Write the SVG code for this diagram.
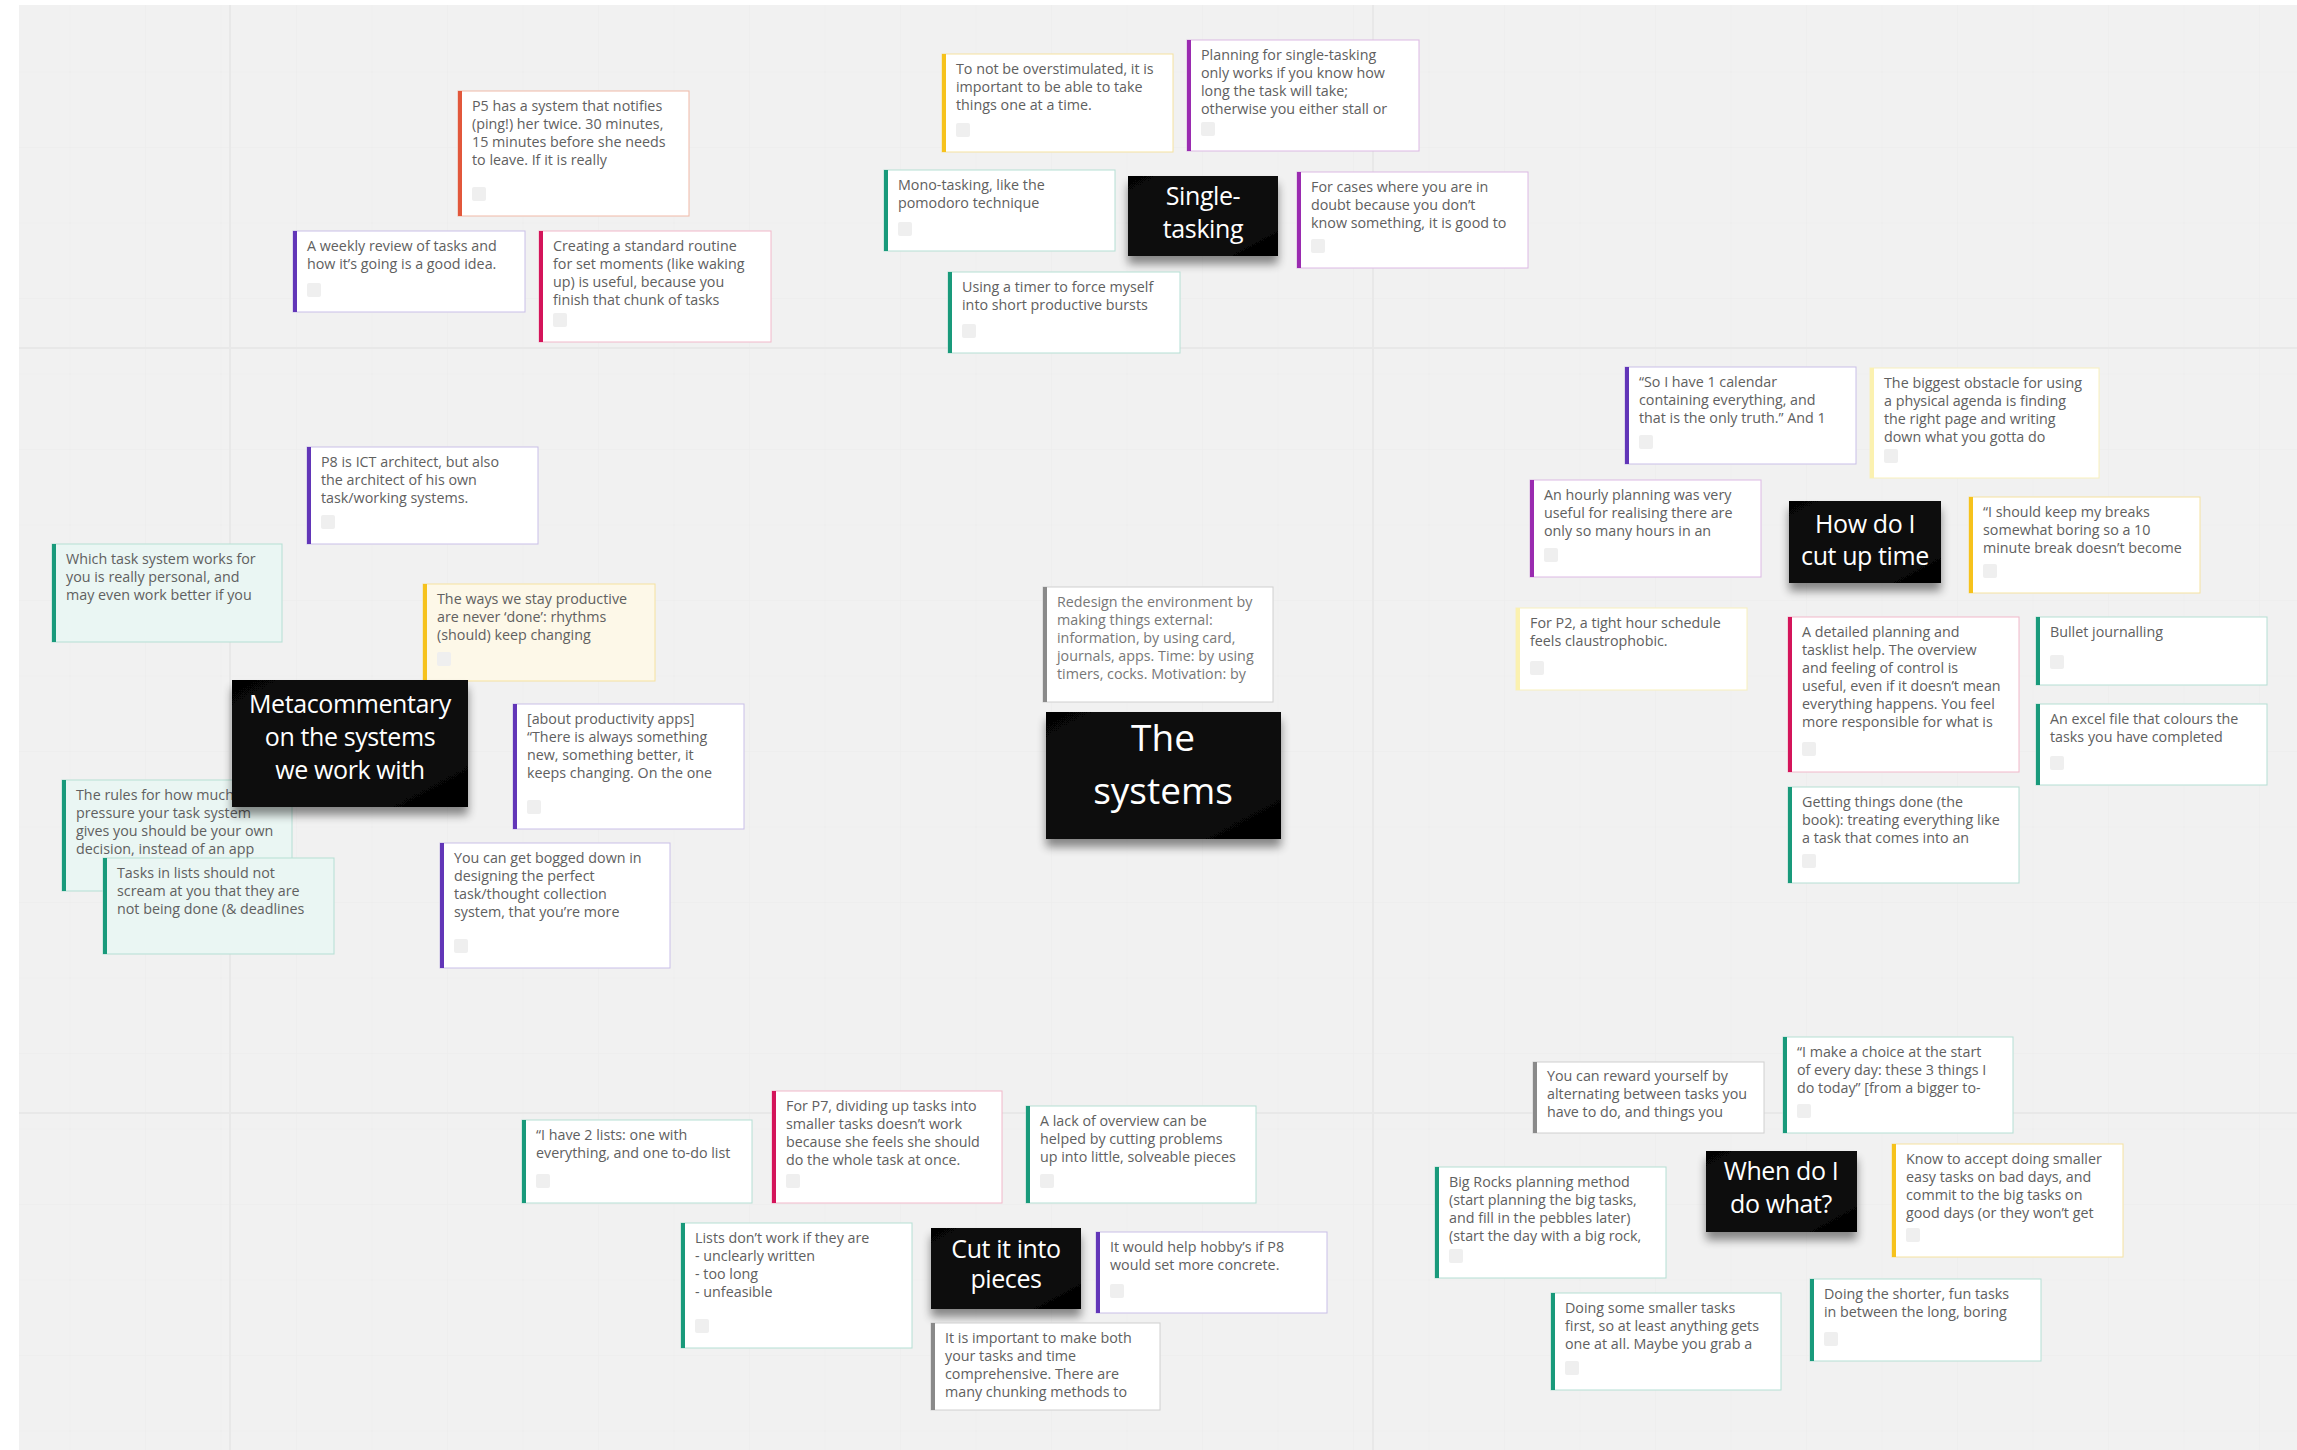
<svg xmlns="http://www.w3.org/2000/svg" width="2297" height="1450" viewBox="0 0 2297 1450">
<defs>
<pattern id="minor" x="-5" y="-3" width="75.5" height="75.5" patternUnits="userSpaceOnUse">
<path d="M75.5 0V75.5M0 75.5H75.5" fill="none" stroke="#ececec" stroke-width="1"/>
</pattern>
<filter id="shadow" x="-20%" y="-20%" width="140%" height="160%">
<feGaussianBlur in="SourceAlpha" stdDeviation="5"/>
<feOffset dx="0" dy="8" result="b"/>
<feComponentTransfer><feFuncA type="linear" slope="0.45"/></feComponentTransfer>
<feMerge><feMergeNode/><feMergeNode in="SourceGraphic"/></feMerge>
</filter>
<linearGradient id="blk" x1="0" y1="0" x2="1" y2="1">
<stop offset="0" stop-color="#050505"/>
<stop offset="0.6" stop-color="#111"/>
<stop offset="1" stop-color="#000"/>
</linearGradient>
</defs>
<style>
.bg{fill:#fff;stroke-width:1}
.t{font-family:"Open Sans","Noto Sans","Liberation Sans",sans-serif;font-size:14.3px;fill:#606060}
.cb{fill:#efefef}
.hd rect{fill:url(#blk);filter:url(#shadow)}
.hd text{font-family:"Open Sans","Noto Sans","Liberation Sans",sans-serif;font-size:25px;fill:#fff;text-anchor:middle;letter-spacing:-0.4px}
.orange .bg{stroke:#f0b9a7}.orange .bar{fill:#e2573b}
.indigo .bg{stroke:#c9bfe8}.indigo .bar{fill:#6236b8}
.magenta .bg{stroke:#dcb9e4}.magenta .bar{fill:#9a2bb0}
.crimson .bg{stroke:#f1b8ca}.crimson .bar{fill:#d4145a}
.teal .bg{stroke:#b5dfd4}.teal .bar{fill:#199a7b}
.yellow .bg{stroke:#f5e2a0}.yellow .bar{fill:#f6c21c}
.pale .bg{stroke:#f8f0bd}.pale .bar{fill:#fbf1b0}
.gray .bg{stroke:#d0d0d0}.gray .bar{fill:#8a8a8a}
.tf .bg{fill:#eaf6f3}
.yf .bg{fill:#fdf8e8}
</style>

<g id="background">
<rect x="0" y="0" width="2297" height="1450" fill="#ffffff"/>
<rect x="19" y="5" width="2278" height="1445" fill="#f1f1f1"/>
<rect x="19" y="5" width="2278" height="1445" fill="url(#minor)"/>
<path d="M230 5V1450M1373 5V1450M19 348H2297M19 1113H2297" stroke="#e8e8e8" stroke-width="2" fill="none"/>
</g>

<g id="connectors"/>

<!-- Top-left cluster -->
<g id="n-p5" class="orange">
<rect class="bg" x="458" y="91" width="231" height="125"/><rect class="bar" x="458" y="91" width="4" height="125"/>
<text class="t"><tspan x="472" y="111">P5 has a system that notifies</tspan><tspan x="472" y="129">(ping!) her twice. 30 minutes,</tspan><tspan x="472" y="147">15 minutes before she needs</tspan><tspan x="472" y="165">to leave. If it is really</tspan></text>
<rect class="cb" x="472" y="187" width="14" height="14" rx="2"/>
</g>
<g id="n-weekly" class="indigo">
<rect class="bg" x="293" y="231" width="232" height="81"/><rect class="bar" x="293" y="231" width="4" height="81"/>
<text class="t"><tspan x="307" y="251">A weekly review of tasks and</tspan><tspan x="307" y="269">how it’s going is a good idea.</tspan></text>
<rect class="cb" x="307" y="283" width="14" height="14" rx="2"/>
</g>
<g id="n-routine" class="crimson">
<rect class="bg" x="539" y="231" width="232" height="111"/><rect class="bar" x="539" y="231" width="4" height="111"/>
<text class="t"><tspan x="553" y="251">Creating a standard routine</tspan><tspan x="553" y="269">for set moments (like waking</tspan><tspan x="553" y="287">up) is useful, because you</tspan><tspan x="553" y="305">finish that chunk of tasks</tspan></text>
<rect class="cb" x="553" y="313" width="14" height="14" rx="2"/>
</g>

<!-- Single-tasking cluster -->
<g id="n-overstim" class="yellow">
<rect class="bg" x="942" y="54" width="231" height="98"/><rect class="bar" x="942" y="54" width="4" height="98"/>
<text class="t"><tspan x="956" y="74">To not be overstimulated, it is</tspan><tspan x="956" y="92">important to be able to take</tspan><tspan x="956" y="110">things one at a time.</tspan></text>
<rect class="cb" x="956" y="123" width="14" height="14" rx="2"/>
</g>
<g id="n-planning-single" class="magenta">
<rect class="bg" x="1187" y="40" width="232" height="111"/><rect class="bar" x="1187" y="40" width="4" height="111"/>
<text class="t"><tspan x="1201" y="60">Planning for single-tasking</tspan><tspan x="1201" y="78">only works if you know how</tspan><tspan x="1201" y="96">long the task will take;</tspan><tspan x="1201" y="114">otherwise you either stall or</tspan></text>
<rect class="cb" x="1201" y="122" width="14" height="14" rx="2"/>
</g>
<g id="n-mono" class="teal">
<rect class="bg" x="884" y="170" width="231" height="81"/><rect class="bar" x="884" y="170" width="4" height="81"/>
<text class="t"><tspan x="898" y="190">Mono-tasking, like the</tspan><tspan x="898" y="208">pomodoro technique</tspan></text>
<rect class="cb" x="898" y="222" width="14" height="14" rx="2"/>
</g>
<g id="n-single-tasking" class="hd">
<rect x="1128" y="176" width="150" height="80"/>
<text><tspan x="1203" y="205">Single-</tspan><tspan x="1203" y="238">tasking</tspan></text>
</g>
<g id="n-forcases" class="magenta">
<rect class="bg" x="1297" y="172" width="231" height="96"/><rect class="bar" x="1297" y="172" width="4" height="96"/>
<text class="t"><tspan x="1311" y="192">For cases where you are in</tspan><tspan x="1311" y="210">doubt because you don’t</tspan><tspan x="1311" y="228">know something, it is good to</tspan></text>
<rect class="cb" x="1311" y="239" width="14" height="14" rx="2"/>
</g>
<g id="n-timer" class="teal">
<rect class="bg" x="948" y="272" width="232" height="81"/><rect class="bar" x="948" y="272" width="4" height="81"/>
<text class="t"><tspan x="962" y="292">Using a timer to force myself</tspan><tspan x="962" y="310">into short productive bursts</tspan></text>
<rect class="cb" x="962" y="324" width="14" height="14" rx="2"/>
</g>

<!-- Metacommentary cluster -->
<g id="n-p8" class="indigo">
<rect class="bg" x="307" y="447" width="231" height="97"/><rect class="bar" x="307" y="447" width="4" height="97"/>
<text class="t"><tspan x="321" y="467">P8 is ICT architect, but also</tspan><tspan x="321" y="485">the architect of his own</tspan><tspan x="321" y="503">task/working systems.</tspan></text>
<rect class="cb" x="321" y="515" width="14" height="14" rx="2"/>
</g>
<g id="n-which" class="teal tf">
<rect class="bg" x="52" y="544" width="230" height="98"/><rect class="bar" x="52" y="544" width="4" height="98"/>
<text class="t"><tspan x="66" y="564">Which task system works for</tspan><tspan x="66" y="582">you is really personal, and</tspan><tspan x="66" y="600">may even work better if you</tspan></text>
</g>
<g id="n-ways" class="yellow yf">
<rect class="bg" x="423" y="584" width="232" height="97"/><rect class="bar" x="423" y="584" width="4" height="97"/>
<text class="t"><tspan x="437" y="604">The ways we stay productive</tspan><tspan x="437" y="622">are never ‘done’: rhythms</tspan><tspan x="437" y="640">(should) keep changing</tspan></text>
<rect class="cb" x="437" y="652" width="14" height="14" rx="2"/>
</g>
<g id="n-apps" class="indigo">
<rect class="bg" x="513" y="704" width="231" height="125"/><rect class="bar" x="513" y="704" width="4" height="125"/>
<text class="t"><tspan x="527" y="724">[about productivity apps]</tspan><tspan x="527" y="742">“There is always something</tspan><tspan x="527" y="760">new, something better, it</tspan><tspan x="527" y="778">keeps changing. On the one</tspan></text>
<rect class="cb" x="527" y="800" width="14" height="14" rx="2"/>
</g>
<g id="n-rules" class="teal tf">
<rect class="bg" x="62" y="780" width="230" height="111"/><rect class="bar" x="62" y="780" width="4" height="111"/>
<text class="t"><tspan x="76" y="800">The rules for how much</tspan><tspan x="76" y="818">pressure your task system</tspan><tspan x="76" y="836">gives you should be your own</tspan><tspan x="76" y="854">decision, instead of an app</tspan></text>
</g>
<g id="n-metacommentary" class="hd">
<rect x="232" y="680" width="236" height="127"/>
<text><tspan x="350" y="713">Metacommentary</tspan><tspan x="350" y="746">on the systems</tspan><tspan x="350" y="779">we work with</tspan></text>
</g>
<g id="n-scream" class="teal tf">
<rect class="bg" x="103" y="858" width="231" height="96"/><rect class="bar" x="103" y="858" width="4" height="96"/>
<text class="t"><tspan x="117" y="878">Tasks in lists should not</tspan><tspan x="117" y="896">scream at you that they are</tspan><tspan x="117" y="914">not being done (&amp; deadlines</tspan></text>
</g>
<g id="n-bogged" class="indigo">
<rect class="bg" x="440" y="843" width="230" height="125"/><rect class="bar" x="440" y="843" width="4" height="125"/>
<text class="t"><tspan x="454" y="863">You can get bogged down in</tspan><tspan x="454" y="881">designing the perfect</tspan><tspan x="454" y="899">task/thought collection</tspan><tspan x="454" y="917">system, that you’re more</tspan></text>
<rect class="cb" x="454" y="939" width="14" height="14" rx="2"/>
</g>

<!-- Center -->
<g id="n-redesign" class="gray">
<rect class="bg" x="1043" y="587" width="230" height="115"/><rect class="bar" x="1043" y="587" width="4" height="115"/>
<text class="t" style="fill:#777"><tspan x="1057" y="607">Redesign the environment by</tspan><tspan x="1057" y="625">making things external:</tspan><tspan x="1057" y="643">information, by using card,</tspan><tspan x="1057" y="661">journals, apps. Time: by using</tspan><tspan x="1057" y="679">timers, cocks. Motivation: by</tspan></text>
</g>
<g id="n-the-systems" class="hd">
<rect x="1046" y="712" width="235" height="127"/>
<text style="font-size:37px;letter-spacing:0"><tspan x="1163" y="751">The</tspan><tspan x="1163" y="804">systems</tspan></text>
</g>

<!-- How do I cut up time cluster -->
<g id="n-calendar" class="indigo">
<rect class="bg" x="1625" y="367" width="231" height="97"/><rect class="bar" x="1625" y="367" width="4" height="97"/>
<text class="t"><tspan x="1639" y="387">“So I have 1 calendar</tspan><tspan x="1639" y="405">containing everything, and</tspan><tspan x="1639" y="423">that is the only truth.” And 1</tspan></text>
<rect class="cb" x="1639" y="435" width="14" height="14" rx="2"/>
</g>
<g id="n-obstacle" class="pale">
<rect class="bg" x="1870" y="368" width="229" height="110"/><rect class="bar" x="1870" y="368" width="4" height="110"/>
<text class="t"><tspan x="1884" y="388">The biggest obstacle for using</tspan><tspan x="1884" y="406">a physical agenda is finding</tspan><tspan x="1884" y="424">the right page and writing</tspan><tspan x="1884" y="442">down what you gotta do</tspan></text>
<rect class="cb" x="1884" y="449" width="14" height="14" rx="2"/>
</g>
<g id="n-hourly" class="magenta">
<rect class="bg" x="1530" y="480" width="231" height="97"/><rect class="bar" x="1530" y="480" width="4" height="97"/>
<text class="t"><tspan x="1544" y="500">An hourly planning was very</tspan><tspan x="1544" y="518">useful for realising there are</tspan><tspan x="1544" y="536">only so many hours in an</tspan></text>
<rect class="cb" x="1544" y="548" width="14" height="14" rx="2"/>
</g>
<g id="n-cut-up-time" class="hd">
<rect x="1789" y="501" width="152" height="82"/>
<text><tspan x="1865" y="533">How do I</tspan><tspan x="1865" y="565">cut up time</tspan></text>
</g>
<g id="n-breaks" class="yellow">
<rect class="bg" x="1969" y="497" width="231" height="96"/><rect class="bar" x="1969" y="497" width="4" height="96"/>
<text class="t"><tspan x="1983" y="517">“I should keep my breaks</tspan><tspan x="1983" y="535">somewhat boring so a 10</tspan><tspan x="1983" y="553">minute break doesn’t become</tspan></text>
<rect class="cb" x="1983" y="564" width="14" height="14" rx="2"/>
</g>
<g id="n-p2" class="pale">
<rect class="bg" x="1516" y="608" width="231" height="82"/><rect class="bar" x="1516" y="608" width="4" height="82"/>
<text class="t"><tspan x="1530" y="628">For P2, a tight hour schedule</tspan><tspan x="1530" y="646">feels claustrophobic.</tspan></text>
<rect class="cb" x="1530" y="661" width="14" height="14" rx="2"/>
</g>
<g id="n-detailed" class="crimson">
<rect class="bg" x="1788" y="617" width="231" height="155"/><rect class="bar" x="1788" y="617" width="4" height="155"/>
<text class="t"><tspan x="1802" y="637">A detailed planning and</tspan><tspan x="1802" y="655">tasklist help. The overview</tspan><tspan x="1802" y="673">and feeling of control is</tspan><tspan x="1802" y="691">useful, even if it doesn’t mean</tspan><tspan x="1802" y="709">everything happens. You feel</tspan><tspan x="1802" y="727">more responsible for what is</tspan></text>
<rect class="cb" x="1802" y="742" width="14" height="14" rx="2"/>
</g>
<g id="n-bullet" class="teal">
<rect class="bg" x="2036" y="617" width="231" height="68"/><rect class="bar" x="2036" y="617" width="4" height="68"/>
<text class="t"><tspan x="2050" y="637">Bullet journalling</tspan></text>
<rect class="cb" x="2050" y="655" width="14" height="14" rx="2"/>
</g>
<g id="n-excel" class="teal">
<rect class="bg" x="2036" y="704" width="231" height="81"/><rect class="bar" x="2036" y="704" width="4" height="81"/>
<text class="t"><tspan x="2050" y="724">An excel file that colours the</tspan><tspan x="2050" y="742">tasks you have completed</tspan></text>
<rect class="cb" x="2050" y="756" width="14" height="14" rx="2"/>
</g>
<g id="n-gtd" class="teal">
<rect class="bg" x="1788" y="787" width="231" height="96"/><rect class="bar" x="1788" y="787" width="4" height="96"/>
<text class="t"><tspan x="1802" y="807">Getting things done (the</tspan><tspan x="1802" y="825">book): treating everything like</tspan><tspan x="1802" y="843">a task that comes into an</tspan></text>
<rect class="cb" x="1802" y="854" width="14" height="14" rx="2"/>
</g>

<!-- Cut it into pieces cluster -->
<g id="n-two-lists" class="teal">
<rect class="bg" x="522" y="1120" width="230" height="83"/><rect class="bar" x="522" y="1120" width="4" height="83"/>
<text class="t"><tspan x="536" y="1140">“I have 2 lists: one with</tspan><tspan x="536" y="1158">everything, and one to-do list</tspan></text>
<rect class="cb" x="536" y="1174" width="14" height="14" rx="2"/>
</g>
<g id="n-p7" class="crimson">
<rect class="bg" x="772" y="1091" width="230" height="112"/><rect class="bar" x="772" y="1091" width="4" height="112"/>
<text class="t"><tspan x="786" y="1111">For P7, dividing up tasks into</tspan><tspan x="786" y="1129">smaller tasks doesn’t work</tspan><tspan x="786" y="1147">because she feels she should</tspan><tspan x="786" y="1165">do the whole task at once.</tspan></text>
<rect class="cb" x="786" y="1174" width="14" height="14" rx="2"/>
</g>
<g id="n-overview" class="teal">
<rect class="bg" x="1026" y="1106" width="230" height="97"/><rect class="bar" x="1026" y="1106" width="4" height="97"/>
<text class="t"><tspan x="1040" y="1126">A lack of overview can be</tspan><tspan x="1040" y="1144">helped by cutting problems</tspan><tspan x="1040" y="1162">up into little, solveable pieces</tspan></text>
<rect class="cb" x="1040" y="1174" width="14" height="14" rx="2"/>
</g>
<g id="n-lists" class="teal">
<rect class="bg" x="681" y="1223" width="231" height="125"/><rect class="bar" x="681" y="1223" width="4" height="125"/>
<text class="t"><tspan x="695" y="1243">Lists don’t work if they are</tspan><tspan x="695" y="1261">- unclearly written</tspan><tspan x="695" y="1279">- too long</tspan><tspan x="695" y="1297">- unfeasible</tspan></text>
<rect class="cb" x="695" y="1319" width="14" height="14" rx="2"/>
</g>
<g id="n-cut-pieces" class="hd">
<rect x="931" y="1228" width="150" height="81"/>
<text><tspan x="1006" y="1258">Cut it into</tspan><tspan x="1006" y="1288">pieces</tspan></text>
</g>
<g id="n-hobby" class="indigo">
<rect class="bg" x="1096" y="1232" width="231" height="81"/><rect class="bar" x="1096" y="1232" width="4" height="81"/>
<text class="t"><tspan x="1110" y="1252">It would help hobby’s if P8</tspan><tspan x="1110" y="1270">would set more concrete.</tspan></text>
<rect class="cb" x="1110" y="1284" width="14" height="14" rx="2"/>
</g>
<g id="n-important" class="gray">
<rect class="bg" x="931" y="1323" width="229" height="87"/><rect class="bar" x="931" y="1323" width="4" height="87"/>
<text class="t"><tspan x="945" y="1343">It is important to make both</tspan><tspan x="945" y="1361">your tasks and time</tspan><tspan x="945" y="1379">comprehensive. There are</tspan><tspan x="945" y="1397">many chunking methods to</tspan></text>
</g>

<!-- When do I do what cluster -->
<g id="n-reward" class="gray">
<rect class="bg" x="1533" y="1062" width="231" height="71"/><rect class="bar" x="1533" y="1062" width="4" height="71"/>
<text class="t"><tspan x="1547" y="1081">You can reward yourself by</tspan><tspan x="1547" y="1099">alternating between tasks you</tspan><tspan x="1547" y="1117">have to do, and things you</tspan></text>
</g>
<g id="n-choice" class="teal">
<rect class="bg" x="1783" y="1037" width="230" height="96"/><rect class="bar" x="1783" y="1037" width="4" height="96"/>
<text class="t"><tspan x="1797" y="1057">“I make a choice at the start</tspan><tspan x="1797" y="1075">of every day: these 3 things I</tspan><tspan x="1797" y="1093">do today” [from a bigger to-</tspan></text>
<rect class="cb" x="1797" y="1104" width="14" height="14" rx="2"/>
</g>
<g id="n-when" class="hd">
<rect x="1706" y="1151" width="151" height="81"/>
<text><tspan x="1781" y="1180">When do I</tspan><tspan x="1781" y="1213">do what?</tspan></text>
</g>
<g id="n-accept" class="yellow">
<rect class="bg" x="1892" y="1144" width="231" height="113"/><rect class="bar" x="1892" y="1144" width="4" height="113"/>
<text class="t"><tspan x="1906" y="1164">Know to accept doing smaller</tspan><tspan x="1906" y="1182">easy tasks on bad days, and</tspan><tspan x="1906" y="1200">commit to the big tasks on</tspan><tspan x="1906" y="1218">good days (or they won’t get</tspan></text>
<rect class="cb" x="1906" y="1228" width="14" height="14" rx="2"/>
</g>
<g id="n-bigrocks" class="teal">
<rect class="bg" x="1435" y="1167" width="231" height="111"/><rect class="bar" x="1435" y="1167" width="4" height="111"/>
<text class="t"><tspan x="1449" y="1187">Big Rocks planning method</tspan><tspan x="1449" y="1205">(start planning the big tasks,</tspan><tspan x="1449" y="1223">and fill in the pebbles later)</tspan><tspan x="1449" y="1241">(start the day with a big rock,</tspan></text>
<rect class="cb" x="1449" y="1249" width="14" height="14" rx="2"/>
</g>
<g id="n-smaller" class="teal">
<rect class="bg" x="1551" y="1293" width="230" height="97"/><rect class="bar" x="1551" y="1293" width="4" height="97"/>
<text class="t"><tspan x="1565" y="1313">Doing some smaller tasks</tspan><tspan x="1565" y="1331">first, so at least anything gets</tspan><tspan x="1565" y="1349">one at all. Maybe you grab a</tspan></text>
<rect class="cb" x="1565" y="1361" width="14" height="14" rx="2"/>
</g>
<g id="n-shorter" class="teal">
<rect class="bg" x="1810" y="1279" width="231" height="82"/><rect class="bar" x="1810" y="1279" width="4" height="82"/>
<text class="t"><tspan x="1824" y="1299">Doing the shorter, fun tasks</tspan><tspan x="1824" y="1317">in between the long, boring</tspan></text>
<rect class="cb" x="1824" y="1332" width="14" height="14" rx="2"/>
</g>
</svg>
